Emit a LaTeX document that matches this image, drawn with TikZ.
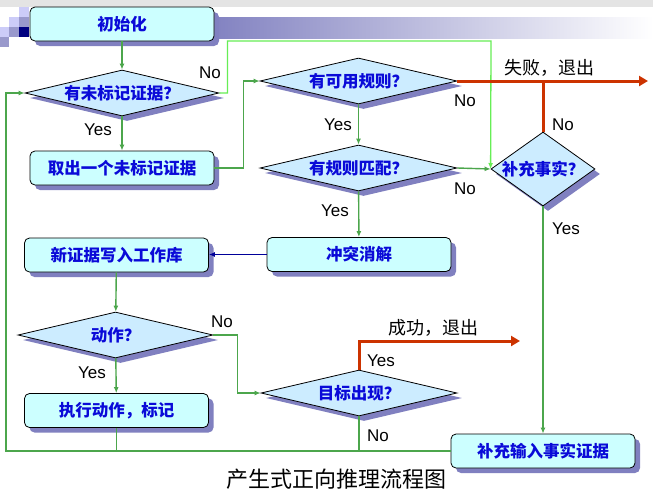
\documentclass[tikz,border=0pt]{standalone}
\usepackage{fontspec}
\setmainfont{Liberation Sans}
\newfontfamily\cjk{Noto Sans CJK SC}
\usetikzlibrary{shapes.geometric,shadows,arrows.meta}
\definecolor{boxc}{HTML}{CCFFFF}
\definecolor{diac}{HTML}{CCECFF}
\definecolor{shc}{HTML}{8080C0}
\definecolor{txtc}{HTML}{0A0AD8}
\definecolor{grc}{HTML}{4CA64C}
\definecolor{lgc}{HTML}{66EE55}
\definecolor{redc}{HTML}{CC3300}
\definecolor{dbl}{HTML}{000099}
\definecolor{sq1}{HTML}{CCCCF8}
\definecolor{sq2}{HTML}{9999CC}
\definecolor{sq3}{HTML}{000080}
\definecolor{topg}{HTML}{E4E4E4}
\begin{document}
\begin{tikzpicture}[x=1pt,y=-1pt,
  shad/.style={drop shadow={shadow xshift=5pt,shadow yshift=-5pt,fill=shc,opacity=1}},
  box/.style={draw=black,line width=0.8pt,rounded corners=5pt,fill=boxc,minimum width=184pt,minimum height=34pt,inner sep=0pt,shad,
     font=\cjk\bfseries\fontsize{16.5}{18}\selectfont,text=txtc},
  dia/.style={draw=black,line width=0.8pt,diamond,fill=diac,inner sep=0pt,shad},
  txt/.style={font=\cjk\bfseries\fontsize{16.5}{18}\selectfont,text=txtc,inner sep=0pt},
  lab/.style={font=\fontsize{17}{19}\selectfont,text=black,inner sep=0pt},
  ext/.style={font=\cjk\fontsize{18}{20}\selectfont,text=black,inner sep=0pt},
  gl/.style={draw=grc,line width=1.4pt},
  ga/.style={gl,-{Latex[length=6pt,width=5pt]}},
  lga/.style={draw=lgc,line width=1.3pt,-{Latex[length=6pt,width=5pt]}},
  rd/.style={draw=redc,line width=3pt},
  rda/.style={rd,-{Triangle[length=9pt,width=10pt]}},
  ba/.style={draw=dbl,line width=1.3pt,-{Latex[length=6pt,width=5pt]}}]
\useasboundingbox (0,0) rectangle (653,496);
\fill[white] (0,0) rectangle (653,496);
% decorations
\fill[topg] (0,0) rectangle (653,7);
\shade[left color=shc,right color=white] (205,17) rectangle (653,38);
\fill[sq1] (19,7) rectangle (29,17);
\fill[sq2] (19,17) rectangle (29,27);
\fill[sq3] (19,27) rectangle (29,37);
\fill[sq1] (9,17) rectangle (19,27);
\fill[sq2] (9,27) rectangle (19,37);
\fill[sq1] (0,27) rectangle (9,37);
\fill[sq2] (0,37) rectangle (9,47);
% nodes
\node[box] (b1) at (122,24) {初始化};
\node[dia,minimum width=194pt,minimum height=46pt,label={[txt]center:有未标记证据？}] (d1) at (122,93) {};
\node[box] (b2) at (122,168) {取出一个未标记证据};
\node[dia,minimum width=197pt,minimum height=46pt,label={[txt]center:有可用规则？}] (d2) at (358.5,81) {};
\node[dia,minimum width=197pt,minimum height=46pt,label={[txt]center:有规则匹配？}] (d3) at (358.5,168) {};
\node[dia,minimum width=104pt,minimum height=74pt,label={[txt]center:补充事实？}] (d4) at (543,169) {};
\node[box] (b3) at (359,254.5) {冲突消解};
\node[box] (b4) at (116.5,255) {新证据写入工作库};
\node[dia,minimum width=195pt,minimum height=46pt,label={[txt]center:动作？}] (d5) at (115.5,335) {};
\node[box] (b5) at (116.5,410.5) {执行动作，标记};
\node[dia,minimum width=196pt,minimum height=46pt,label={[txt]center:目标出现？}] (d6) at (359,393) {};
\node[box] (b6) at (543,451) {补充输入事实证据};
% coordinates
\coordinate (c1) at (491,41);
\coordinate (c2) at (648,81);
\coordinate (c3) at (520,341);
\coordinate (c4) at (6,451);
% connectors
\draw[ga] (b1) -- (d1);
\draw[ga] (d1) -- (b2);
\draw[lga] (d1.east) -- ++(8,0) |- (c1) -- (d4.west);
\draw[ga] (b2.east) -- ++(29,0) |- (d2.west);
\draw[ga] (d2) -- (d3);
\draw[rd] (d4.north) -- (d4.north |- d2.east);
\draw[rda] (d2.east) -- (c2);
\draw[ga] (d3.east) -- (d4.west);
\draw[ga] (d3) -- (b3);
\draw[ba] (b3.west) -- (b3.west -| b4.east);
\draw[ga] (b4) -- (d5);
\draw[ga] (d5) -- (b5);
\draw[ga] (d5.east) -- ++(24,0) |- (d6.west);
\draw[rda] (d6.north) |- (c3);
\draw[ga] (d4) -- (b6);
\draw[ga] (b6.west) -- (c4) |- (d1.west);
\draw[gl] (b5.south) -- (b5.south |- b6.west);
\draw[gl] (d6.south) -- (d6.south |- b6.west);
% labels
\node[lab] (l1) at (210,73) {No};
\node[lab] (l2) at (98,130) {Yes};
\node[lab] (l3) at (465,101) {No};
\node[lab] (l4) at (338,125) {Yes};
\node[ext] (l5) at (549,68) {失败，退出};
\node[lab] (l6) at (563,125) {No};
\node[lab] (l7) at (465,189) {No};
\node[lab] (l8) at (335,211) {Yes};
\node[lab] (l9) at (566,229) {Yes};
\node[lab] (l10) at (222,322) {No};
\node[lab] (l11) at (92,373) {Yes};
\node[ext] (l12) at (433,328) {成功，退出};
\node[lab] (l13) at (381,361) {Yes};
\node[lab] (l14) at (378,436) {No};
\node[font=\cjk\fontsize{22}{24}\selectfont,text=black,inner sep=0pt] (cap) at (336,479) {产生式正向推理流程图};
\end{tikzpicture}
\end{document}
